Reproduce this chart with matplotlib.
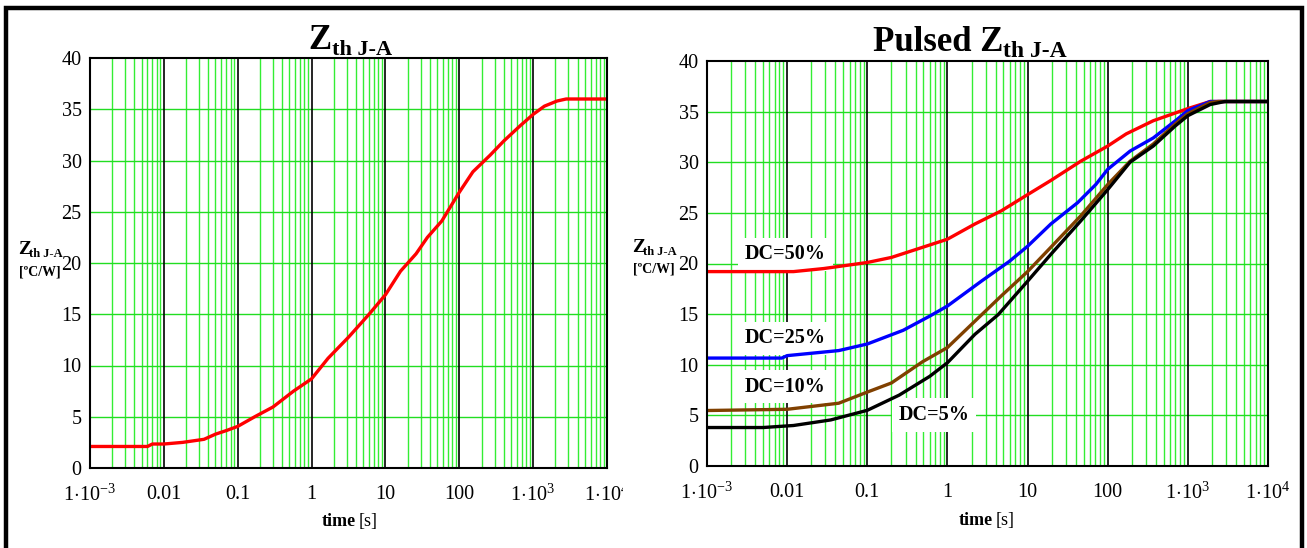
import numpy as np
import matplotlib
matplotlib.use("Agg")
import matplotlib.pyplot as plt
from matplotlib.patches import Rectangle
from matplotlib.transforms import Bbox, TransformedBbox

plt.rcParams['font.family'] = ['Liberation Serif', 'DejaVu Serif']
plt.rcParams['mathtext.fontset'] = 'custom'
plt.rcParams['mathtext.rm'] = 'Liberation Serif'
plt.rcParams['mathtext.it'] = 'Liberation Serif'
plt.rcParams['mathtext.bf'] = 'Liberation Serif:bold'

# ---------------- data ----------------
x_ticks = [1e-3, 1e-2, 1e-1, 1, 10, 100, 1e3, 1e4]
x_ticklabels = [r'$1\!\cdot\!10^{-3}$', '0.01', '0.1', '1', '10', '100',
                r'$1\!\cdot\!10^{3}$', r'$1\!\cdot\!10^{4}$']
y_ticks = [0, 5, 10, 15, 20, 25, 30, 35, 40]

zth_t = [1e-3, 0.006, 0.007, 0.01, 0.018, 0.035, 0.05, 0.07, 0.1, 0.17, 0.3,
         0.57, 1.0, 1.67, 3.2, 6, 10, 16, 26, 37, 58, 100, 153, 260, 400,
         670, 1000, 1420, 2100, 2800, 1e4]
zth_v = [2.1, 2.1, 2.34, 2.34, 2.5, 2.8, 3.3, 3.65, 4.06, 5.0, 5.95,
         7.5, 8.7, 10.7, 12.8, 15.0, 16.9, 19.2, 20.9, 22.5, 24.1, 26.9,
         28.9, 30.5, 31.9, 33.4, 34.5, 35.3, 35.8, 36.0, 36.0]

dc50_t = [1e-3, 0.012, 0.0285, 0.1, 0.2, 0.49, 1, 2.2, 4.7, 10, 19.5, 46,
          100, 170, 370, 1000, 1900, 1e4]
dc50_v = [19.2, 19.2, 19.5, 20.1, 20.6, 21.6, 22.4, 23.9, 25.2, 26.8, 28.2,
          30.1, 31.6, 32.8, 34.1, 35.3, 36.0, 36.0]

dc25_t = [1e-3, 0.0086, 0.01, 0.044, 0.1, 0.28, 0.6, 1, 2.7, 5.9, 10, 19.5,
          42, 71, 100, 190, 370, 700, 1000, 1900, 1e4]
dc25_v = [10.66, 10.66, 10.9, 11.4, 12.05, 13.4, 14.8, 15.8, 18.3, 20.2,
          21.7, 23.9, 26.0, 27.8, 29.3, 31.1, 32.4, 34.1, 35.1, 36.0, 36.0]

dc10_t = [1e-3, 0.01, 0.044, 0.1, 0.2, 0.49, 1, 2.2, 4.7, 10, 19.5, 46, 100,
          190, 370, 700, 1000, 1900, 2400, 1e4]
dc10_v = [5.48, 5.6, 6.2, 7.3, 8.2, 10.3, 11.7, 14.3, 16.8, 19.2, 21.6,
          24.7, 27.8, 30.1, 31.8, 33.8, 34.8, 35.9, 36.0, 36.0]

dc5_t = [1e-3, 0.005, 0.012, 0.035, 0.1, 0.25, 0.6, 1, 2.2, 4.3, 10, 19.5,
         46, 100, 190, 370, 700, 1000, 1900, 2900, 1e4]
dc5_v = [3.8, 3.8, 4.0, 4.55, 5.5, 7.0, 8.85, 10.2, 13.0, 14.95, 18.25,
         20.9, 24.2, 27.3, 30.0, 31.6, 33.6, 34.6, 35.7, 36.0, 36.0]

dc_labels = ['DC=50%', 'DC=25%', 'DC=10%', 'DC=5%']
dc_label_pos = [(0.0095, 20.9), (0.0095, 12.6), (0.0095, 7.85), (0.68, 5.05)]

# ---------------- figure ----------------
W, H = 1307, 548
fig = plt.figure(figsize=(W / 100, H / 100), dpi=100)

# outer border
fig.add_artist(Rectangle((6 / W, -0.05), (1302 - 6) / W, 1.05 - 8 / H,
                         transform=fig.transFigure, fill=False,
                         edgecolor='black', lw=3.2))


def px_axes(x0, y0, x1, y1):
    return fig.add_axes([x0 / W, 1 - y1 / H, (x1 - x0) / W, (y1 - y0) / H])


def style_axes(ax):
    ax.set_xscale('log')
    ax.set_xlim(1e-3, 1e4)
    ax.set_ylim(0, 40)
    for d in range(-3, 4):
        for m in range(2, 10):
            ax.axvline(m * 10.0 ** d, color='#33ee33', lw=1.0, zorder=1)
    for y in y_ticks[1:-1]:
        ax.axhline(y, color='#22dd22', lw=1.0, zorder=1)
    for xt in x_ticks[1:-1]:
        ax.axvline(xt, color='black', lw=1.2, zorder=2)
    ax.set_xticks(x_ticks)
    ax.set_xticklabels(x_ticklabels)
    ax.xaxis.set_minor_locator(matplotlib.ticker.NullLocator())
    ax.set_yticks(y_ticks)
    ax.tick_params(axis='both', length=0, labelsize=14.5)
    ax.tick_params(axis='x', pad=12)
    ax.tick_params(axis='y', pad=6)
    for s in ax.spines.values():
        s.set_linewidth(1.5)
        s.set_zorder(5)


# ---- left plot ----
ax1 = px_axes(90, 58, 607, 468)
style_axes(ax1)
ax1.plot(zth_t, zth_v, color='#ff0000', lw=2.4, zorder=4)

# clip last tick label of left plot (as in the reference)
clip = TransformedBbox(Bbox([[0, 0], [623 / W, 1]]), fig.transFigure)
lbl = ax1.get_xticklabels()[-1]
lbl.set_clip_box(clip)
lbl.set_clip_on(True)

# ---- right plot ----
ax2 = px_axes(707, 61, 1268, 466)
style_axes(ax2)
ax2.plot(dc50_t, dc50_v, color='#ff0000', lw=2.4, zorder=4)
ax2.plot(dc25_t, dc25_v, color='#0000ff', lw=2.4, zorder=4)
ax2.plot(dc10_t, dc10_v, color='#804000', lw=2.4, zorder=4)
ax2.plot(dc5_t, dc5_v, color='#000000', lw=2.4, zorder=4)
for lab, (xx, yy) in zip(dc_labels, dc_label_pos):
    ax2.text(xx, yy, lab, fontsize=14.5, fontweight='bold', ha='center',
             va='center', zorder=3,
             bbox=dict(facecolor='white', edgecolor='none', pad=5))

# ---- titles ----
def title(x_anchor, y, prefix, sub=16):
    fig.text(x_anchor / W, 1 - y / H, prefix + 'Z', fontsize=25,
             fontweight='bold', ha='right', va='baseline')
    fig.text(x_anchor / W, 1 - (y + 6) / H, 'th J-A', fontsize=sub,
             fontweight='bold', ha='left', va='baseline')

title(332, 49, '', 16)
title(1003, 51, 'Pulsed ', 17)

# ---- y labels ----
def ylab(x, y):
    fig.text(x / W, 1 - y / H, 'Z', fontsize=14, fontweight='bold',
             ha='left', va='baseline')
    fig.text((x + 11) / W, 1 - (y + 3) / H, 'th J-A', fontsize=9,
             fontweight='bold', ha='left', va='baseline')
    fig.text((x + 1) / W, 1 - (y + 21) / H, '[ºC/W]', fontsize=10,
             fontweight='bold', ha='left', va='baseline')

ylab(18, 254)
ylab(632, 252)

# ---- x labels ----
def xlab(xc, y):
    fig.text(xc / W, 1 - y / H, 'time', fontsize=13, fontweight='bold',
             ha='right', va='baseline')
    fig.text((xc + 3) / W, 1 - y / H, '[s]', fontsize=13,
             ha='left', va='baseline')

xlab(356, 526)
xlab(993, 525)

fig.savefig('out.png', dpi=100)
